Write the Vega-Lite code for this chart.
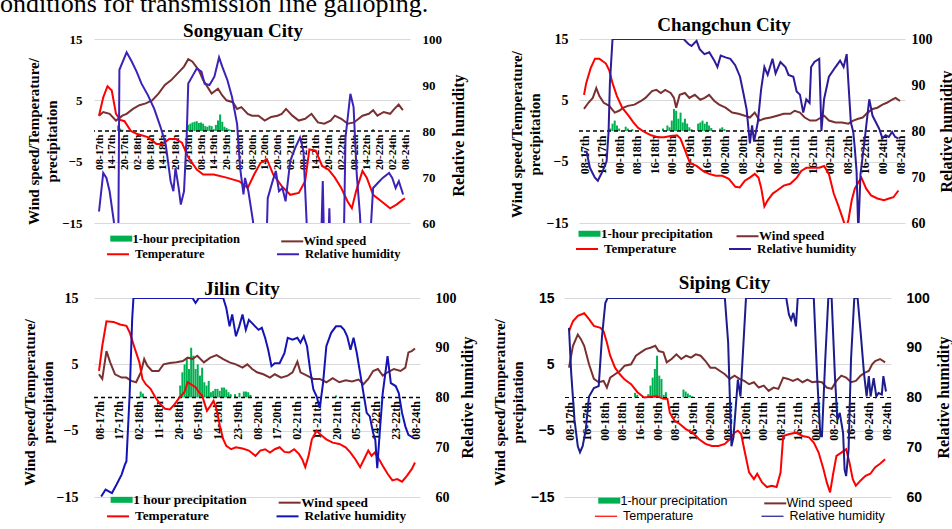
{
  "$schema": "https://vega.github.io/schema/vega-lite/v6.json",
  "background": "white",
  "padding": {"left": 0, "top": -10, "right": 0, "bottom": 0},
  "title": {"text": "onditions for transmission line galloping.", "anchor": "start", "frame": "bounds", "font": "Liberation Serif", "fontSize": 26, "fontWeight": "normal", "color": "black", "baseline": "alphabetic", "offset": -22, "dx": -22},
  "config": {
    "view": {"stroke": null},
    "font": "Liberation Serif",
    "axis": {"labelColor": "black", "titleColor": "black"},
    "axisX": {"labelOverlap": false, "tickCount": 200},
    "legend": {"labelColor": "black"},
    "title": {"color": "black"}
  },
  "datasets": {
    "sy_w": [{"h":0,"v":2.5},{"h":2,"v":3.1},{"h":5,"v":2.8},{"h":8,"v":1.7},{"h":11,"v":2.5},{"h":13,"v":2.8},{"h":16,"v":3.6},{"h":19,"v":4.2},{"h":22,"v":4.5},{"h":25,"v":5.0},{"h":28,"v":6.1},{"h":31,"v":7.5},{"h":34,"v":8.3},{"h":37,"v":9.4},{"h":40,"v":10.5},{"h":42,"v":11.7},{"h":44,"v":11.3},{"h":47,"v":9.9},{"h":49,"v":8.3},{"h":51,"v":7.2},{"h":53,"v":6.1},{"h":56,"v":6.9},{"h":58,"v":5.8},{"h":60,"v":5.0},{"h":63,"v":4.7},{"h":65,"v":3.6},{"h":67,"v":3.9},{"h":70,"v":2.8},{"h":72,"v":2.5},{"h":75,"v":2.5},{"h":78,"v":1.7},{"h":81,"v":2.3},{"h":84,"v":2.5},{"h":86,"v":2.8},{"h":88,"v":3.6},{"h":91,"v":2.5},{"h":94,"v":1.7},{"h":97,"v":2.0},{"h":100,"v":2.8},{"h":103,"v":1.4},{"h":106,"v":1.2},{"h":109,"v":1.7},{"h":111,"v":2.5},{"h":114,"v":2.0},{"h":117,"v":1.2},{"h":120,"v":1.4},{"h":124,"v":2.5},{"h":127,"v":2.8},{"h":129,"v":3.4},{"h":131,"v":2.5},{"h":134,"v":3.1},{"h":137,"v":2.8},{"h":139,"v":3.6},{"h":141,"v":4.3},{"h":143,"v":3.4}],
    "sy_t": [{"h":0,"v":2.5},{"h":2,"v":5.5},{"h":4,"v":7.3},{"h":6,"v":6.6},{"h":8,"v":2.8},{"h":10,"v":1.8},{"h":12,"v":1.6},{"h":15,"v":0},{"h":18,"v":-0.5},{"h":23,"v":-1.0},{"h":27,"v":-2.1},{"h":30,"v":-2.1},{"h":33,"v":-1.3},{"h":36,"v":-1.3},{"h":39,"v":-1.9},{"h":42,"v":-4.3},{"h":46,"v":-6.3},{"h":49,"v":-7.1},{"h":54,"v":-7.1},{"h":60,"v":-7.6},{"h":66,"v":-8.2},{"h":70,"v":-9.3},{"h":73,"v":-7.1},{"h":76,"v":-5.2},{"h":79,"v":-4.6},{"h":82,"v":-7.1},{"h":86,"v":-9.0},{"h":90,"v":-10.4},{"h":94,"v":-10.1},{"h":97,"v":-8.2},{"h":99,"v":-3.0},{"h":102,"v":-3.2},{"h":105,"v":-5.7},{"h":108,"v":-6.3},{"h":111,"v":-7.6},{"h":114,"v":-9.3},{"h":117,"v":-11.5},{"h":119,"v":-12.6},{"h":121,"v":-9.8},{"h":124,"v":-6.5},{"h":126,"v":-7.6},{"h":129,"v":-10.4},{"h":133,"v":-11.5},{"h":137,"v":-12.6},{"h":140,"v":-12.0},{"h":143,"v":-11.2},{"h":144,"v":-11.0}],
    "sy_h": [{"h":0,"v":62.5},{"h":2,"v":70.9},{"h":3.5,"v":69.8},{"h":5,"v":66.9},{"h":7,"v":60.3},{"h":7.8,"v":50},{"h":9,"v":50},{"h":9.6,"v":93.3},{"h":13,"v":97.1},{"h":15.4,"v":95.1},{"h":17.7,"v":92.9},{"h":20,"v":90.3},{"h":23,"v":87.8},{"h":26,"v":84.8},{"h":29,"v":80.8},{"h":31.4,"v":77.1},{"h":33.7,"v":69.1},{"h":35,"v":66.9},{"h":36,"v":72},{"h":37.5,"v":67.6},{"h":38.5,"v":64},{"h":40,"v":66.9},{"h":41.3,"v":79.3},{"h":42,"v":90.3},{"h":44.3,"v":92.2},{"h":46,"v":93.6},{"h":48.2,"v":92.9},{"h":49.7,"v":90.3},{"h":52,"v":90},{"h":54.3,"v":91.8},{"h":56.5,"v":96},{"h":58,"v":94},{"h":60.4,"v":91.1},{"h":62.6,"v":87.4},{"h":65,"v":81.5},{"h":66.4,"v":72},{"h":68,"v":66.2},{"h":68.7,"v":69.8},{"h":70.3,"v":66.9},{"h":72.5,"v":60.3},{"h":73.5,"v":50},{"h":78.5,"v":50},{"h":79.4,"v":65.4},{"h":81.7,"v":69.1},{"h":83.2,"v":71.3},{"h":84.7,"v":66.9},{"h":86.3,"v":67.6},{"h":87.8,"v":64.7},{"h":90,"v":73.5},{"h":92.4,"v":76.4},{"h":94.6,"v":78.6},{"h":96.2,"v":75.7},{"h":97.7,"v":60.3},{"h":98.5,"v":50},{"h":104.2,"v":50},{"h":105.3,"v":69.1},{"h":106.2,"v":50},{"h":107.6,"v":50},{"h":108.4,"v":63.2},{"h":109.2,"v":50},{"h":115,"v":50},{"h":116,"v":78.6},{"h":118.3,"v":88.1},{"h":119.8,"v":85.2},{"h":121.3,"v":70.5},{"h":122.8,"v":61.8},{"h":124,"v":50},{"h":127.4,"v":55},{"h":129,"v":67.6},{"h":131.2,"v":68.7},{"h":133.5,"v":69.8},{"h":136.5,"v":70.9},{"h":138,"v":69.8},{"h":139.6,"v":67.6},{"h":141.1,"v":69.1},{"h":143.1,"v":66.2}],
    "sy_p": [{"h":9,"v":0.9},{"h":10,"v":0.4},{"h":11,"v":0.2},{"h":42,"v":1.0},{"h":43,"v":1.2},{"h":44,"v":1.4},{"h":45,"v":1.5},{"h":46,"v":1.6},{"h":47,"v":1.3},{"h":48,"v":1.4},{"h":49,"v":1.2},{"h":50,"v":0.8},{"h":51,"v":0.7},{"h":52,"v":0.9},{"h":53,"v":0.8},{"h":54,"v":0.3},{"h":55,"v":1.0},{"h":56,"v":1.7},{"h":57,"v":2.7},{"h":58,"v":1.5},{"h":59,"v":0.7},{"h":60,"v":0.5},{"h":61,"v":0.3},{"h":62,"v":0.2},{"h":81,"v":0.1},{"h":129,"v":0.3}],
    "cc_w": [{"h":0,"v":3.6},{"h":2,"v":4.6},{"h":4,"v":5.4},{"h":5.6,"v":7.0},{"h":7,"v":5.7},{"h":9,"v":4.6},{"h":11.5,"v":4.1},{"h":14,"v":3.0},{"h":16,"v":3.3},{"h":18,"v":3.8},{"h":20,"v":4.1},{"h":23,"v":4.3},{"h":26,"v":4.9},{"h":28,"v":5.4},{"h":31,"v":6.5},{"h":33,"v":6.7},{"h":35,"v":6.2},{"h":37,"v":6.7},{"h":39.5,"v":6.2},{"h":41,"v":5.4},{"h":42,"v":3.8},{"h":43.6,"v":5.9},{"h":46,"v":6.2},{"h":48,"v":5.4},{"h":50.5,"v":5.9},{"h":53,"v":5.1},{"h":55,"v":5.4},{"h":57,"v":5.9},{"h":59.4,"v":4.9},{"h":61.6,"v":4.3},{"h":64.5,"v":3.8},{"h":67.5,"v":3.0},{"h":70.4,"v":2.8},{"h":73.3,"v":2.5},{"h":75.6,"v":2.2},{"h":77.8,"v":3.0},{"h":80,"v":1.7},{"h":82,"v":2.0},{"h":85,"v":2.2},{"h":88,"v":2.5},{"h":91,"v":2.8},{"h":94,"v":2.8},{"h":96,"v":3.3},{"h":98.4,"v":3.0},{"h":100.6,"v":2.2},{"h":103,"v":1.7},{"h":105.7,"v":1.7},{"h":108,"v":2.2},{"h":109.4,"v":2.5},{"h":111.6,"v":1.7},{"h":114.6,"v":1.4},{"h":117.5,"v":1.4},{"h":120.5,"v":1.2},{"h":122.7,"v":1.7},{"h":125,"v":2.0},{"h":127,"v":2.2},{"h":129.3,"v":3.0},{"h":131.5,"v":3.6},{"h":133.7,"v":3.8},{"h":136,"v":4.3},{"h":138,"v":4.6},{"h":140.4,"v":5.1},{"h":142,"v":5.4},{"h":144,"v":4.9}],
    "cc_t": [{"h":0,"v":5.9},{"h":1,"v":7.8},{"h":3,"v":10.2},{"h":5,"v":11.8},{"h":7,"v":11.8},{"h":10,"v":11.0},{"h":11.5,"v":9.9},{"h":13,"v":7.8},{"h":15,"v":5.7},{"h":17.4,"v":3.8},{"h":20.3,"v":2.5},{"h":22.5,"v":1.4},{"h":24.7,"v":0.5},{"h":27.7,"v":-0.2},{"h":30.6,"v":-0.7},{"h":33.6,"v":-1.0},{"h":36.5,"v":-1.0},{"h":39.5,"v":-0.8},{"h":42.4,"v":-0.7},{"h":43.9,"v":-1.2},{"h":46,"v":-3.1},{"h":48.3,"v":-5.2},{"h":51.3,"v":-5.7},{"h":54.2,"v":-6.5},{"h":57,"v":-7.0},{"h":60,"v":-7.3},{"h":63,"v":-7.3},{"h":66,"v":-7.8},{"h":69,"v":-9.1},{"h":71,"v":-9.2},{"h":73.3,"v":-8.1},{"h":75.6,"v":-7.6},{"h":77.8,"v":-7.0},{"h":79.5,"v":-7.6},{"h":80.7,"v":-9.2},{"h":82.2,"v":-12.3},{"h":83.7,"v":-11.3},{"h":86,"v":-10.2},{"h":88,"v":-9.7},{"h":91,"v":-8.9},{"h":94,"v":-8.6},{"h":97,"v":-7.6},{"h":99,"v":-6.5},{"h":101.3,"v":-6.0},{"h":104.3,"v":-6.0},{"h":107.2,"v":-6.0},{"h":109.4,"v":-5.7},{"h":111.6,"v":-7.0},{"h":113.8,"v":-10.2},{"h":116,"v":-12.3},{"h":118.3,"v":-14.7},{"h":119.3,"v":-16},{"h":120.5,"v":-14.5},{"h":122,"v":-11.3},{"h":123.4,"v":-9.4},{"h":125,"v":-8.4},{"h":126.4,"v":-7.6},{"h":128.6,"v":-9.4},{"h":130.8,"v":-10.5},{"h":133.7,"v":-11.0},{"h":136.7,"v":-11.3},{"h":139,"v":-11.0},{"h":141,"v":-10.8},{"h":143.3,"v":-9.7}],
    "cc_h": [{"h":0,"v":75.5},{"h":1.2,"v":75.5},{"h":2.7,"v":72},{"h":4.9,"v":69.9},{"h":6.3,"v":69.2},{"h":8.5,"v":71.3},{"h":10.3,"v":73.4},{"h":11.2,"v":79.8},{"h":11.8,"v":90.4},{"h":13,"v":100},{"h":45.4,"v":100},{"h":47.6,"v":98.9},{"h":49,"v":98.5},{"h":51.3,"v":99.6},{"h":52.7,"v":97.8},{"h":54.9,"v":96.7},{"h":57.1,"v":97.1},{"h":59.4,"v":95.3},{"h":60.8,"v":93.9},{"h":62.3,"v":96.4},{"h":64.5,"v":96},{"h":66.7,"v":95.7},{"h":68.9,"v":94.3},{"h":71.1,"v":91.8},{"h":72.6,"v":88.3},{"h":74.1,"v":84.7},{"h":75.6,"v":77.3},{"h":76.6,"v":81.2},{"h":77.5,"v":77.7},{"h":79.2,"v":81.9},{"h":80.7,"v":89},{"h":82.2,"v":93.9},{"h":83.7,"v":92.2},{"h":85.9,"v":95.7},{"h":87.3,"v":92.5},{"h":89.5,"v":95},{"h":91.8,"v":93.9},{"h":93.2,"v":92.2},{"h":95.4,"v":91.8},{"h":96.9,"v":88.6},{"h":98.4,"v":87.9},{"h":99.9,"v":84},{"h":101.3,"v":86.9},{"h":102.8,"v":86.1},{"h":103.5,"v":93.9},{"h":105,"v":95},{"h":107.2,"v":95.7},{"h":108.2,"v":80},{"h":109.4,"v":86.9},{"h":111.6,"v":91.8},{"h":114.6,"v":93.9},{"h":116.7,"v":95.3},{"h":118.3,"v":93.9},{"h":119.7,"v":96.7},{"h":120.5,"v":90.4},{"h":121.6,"v":81.9},{"h":122.7,"v":79.8},{"h":123.4,"v":76.3},{"h":124.2,"v":71.3},{"h":125,"v":58},{"h":126,"v":70.6},{"h":127.8,"v":77.7},{"h":129.3,"v":84},{"h":130,"v":86.9},{"h":131.5,"v":83.3},{"h":133,"v":81.9},{"h":134.5,"v":80.5},{"h":136,"v":78.4},{"h":137.4,"v":79.1},{"h":138.9,"v":78.7},{"h":140.4,"v":79.8},{"h":141.8,"v":78.7},{"h":143.3,"v":78.4}],
    "cc_p": [{"h":12,"v":0.4},{"h":13,"v":1.2},{"h":14,"v":1.7},{"h":15,"v":0.9},{"h":16,"v":0.4},{"h":19,"v":0.7},{"h":20,"v":0.4},{"h":22,"v":0.3},{"h":31,"v":0.1},{"h":36,"v":0.4},{"h":38,"v":0.9},{"h":39,"v":0.6},{"h":40,"v":1.7},{"h":41,"v":3.6},{"h":42,"v":3.3},{"h":43,"v":2.0},{"h":44,"v":3.0},{"h":45,"v":1.4},{"h":46,"v":2.0},{"h":47,"v":1.2},{"h":48,"v":0.6},{"h":49,"v":0.3},{"h":52,"v":1.2},{"h":53,"v":1.4},{"h":54,"v":1.7},{"h":55,"v":1.2},{"h":56,"v":1.5},{"h":57,"v":0.9},{"h":58,"v":0.5},{"h":62,"v":0.4},{"h":63,"v":0.6},{"h":64,"v":0.3}],
    "jl_t": [{"h":0,"v":4.0},{"h":1.5,"v":7.8},{"h":3.4,"v":11.5},{"h":6.6,"v":11.4},{"h":9.6,"v":11.0},{"h":12.5,"v":10.8},{"h":14,"v":9.8},{"h":16.2,"v":7.5},{"h":18.4,"v":5.3},{"h":19.8,"v":2.8},{"h":21.3,"v":2.0},{"h":23.5,"v":1.3},{"h":25.7,"v":0},{"h":27.9,"v":-1.0},{"h":30.1,"v":-1.7},{"h":32.3,"v":-1.8},{"h":34.5,"v":-1.0},{"h":36.7,"v":0},{"h":38.9,"v":0.8},{"h":40.4,"v":2.3},{"h":41.9,"v":2.0},{"h":44.1,"v":1.5},{"h":45.5,"v":0.8},{"h":47,"v":0.3},{"h":48.5,"v":-1.3},{"h":49.2,"v":-2.0},{"h":50.7,"v":-1.3},{"h":52.2,"v":-0.5},{"h":53.6,"v":-1.8},{"h":55.1,"v":-4.3},{"h":56.6,"v":-6.3},{"h":58,"v":-7.3},{"h":60.2,"v":-7.8},{"h":62.4,"v":-7.5},{"h":65.4,"v":-7.7},{"h":68.3,"v":-8.0},{"h":71.3,"v":-8.8},{"h":73.5,"v":-8.0},{"h":75.7,"v":-7.8},{"h":77.9,"v":-8.3},{"h":80.1,"v":-7.8},{"h":82.3,"v":-7.5},{"h":84.5,"v":-8.2},{"h":86.7,"v":-8.3},{"h":88.9,"v":-7.8},{"h":91.1,"v":-8.5},{"h":92.6,"v":-9.3},{"h":94,"v":-10.5},{"h":95.5,"v":-8.8},{"h":97,"v":-6.3},{"h":99.2,"v":-5.0},{"h":100.6,"v":-5.5},{"h":103.6,"v":-6.3},{"h":106.5,"v":-6.8},{"h":109.5,"v":-7.0},{"h":112.4,"v":-7.5},{"h":114.6,"v":-8.3},{"h":116.8,"v":-9.3},{"h":119,"v":-10.5},{"h":120.5,"v":-9.5},{"h":122.7,"v":-8.0},{"h":124.2,"v":-8.8},{"h":125.6,"v":-8.3},{"h":127.1,"v":-9.0},{"h":129.3,"v":-10.3},{"h":131.5,"v":-11.5},{"h":133.7,"v":-12.5},{"h":135.9,"v":-12.3},{"h":138.1,"v":-12.7},{"h":140.3,"v":-11.8},{"h":142.5,"v":-10.8},{"h":144,"v":-9.8}],
    "jl_w": [{"h":0,"v":3.5},{"h":1.5,"v":2.8},{"h":3.4,"v":7.0},{"h":5.1,"v":5.3},{"h":7.3,"v":3.5},{"h":10.3,"v":3.0},{"h":12.5,"v":3.0},{"h":14.7,"v":2.5},{"h":16.9,"v":2.3},{"h":19.1,"v":3.8},{"h":20.6,"v":5.8},{"h":22,"v":4.8},{"h":24.2,"v":4.0},{"h":27.2,"v":4.0},{"h":29.4,"v":5.0},{"h":32.3,"v":5.2},{"h":35.3,"v":5.3},{"h":38.2,"v":5.5},{"h":40.4,"v":6.0},{"h":42.6,"v":5.8},{"h":44.8,"v":6.3},{"h":47.8,"v":5.3},{"h":50.7,"v":6.0},{"h":53.6,"v":6.4},{"h":56.6,"v":5.8},{"h":59.5,"v":5.3},{"h":62.4,"v":5.0},{"h":65.4,"v":4.5},{"h":67.6,"v":5.0},{"h":69.8,"v":4.3},{"h":72,"v":3.8},{"h":74.9,"v":3.5},{"h":77.9,"v":3.0},{"h":80.1,"v":3.5},{"h":83,"v":3.0},{"h":86,"v":3.3},{"h":88.2,"v":3.8},{"h":90.4,"v":5.4},{"h":91.8,"v":3.8},{"h":94.8,"v":3.3},{"h":97.7,"v":2.8},{"h":100.6,"v":2.8},{"h":103.6,"v":2.3},{"h":106.5,"v":2.9},{"h":109.5,"v":2.3},{"h":112.4,"v":2.6},{"h":115.3,"v":2.4},{"h":118.3,"v":2.7},{"h":120.5,"v":2.0},{"h":122.7,"v":2.8},{"h":124.9,"v":4.0},{"h":127.1,"v":4.3},{"h":129.3,"v":3.3},{"h":131.5,"v":3.8},{"h":134.4,"v":4.3},{"h":137.4,"v":4.0},{"h":139.6,"v":4.5},{"h":141,"v":6.8},{"h":142.5,"v":7.0},{"h":144,"v":7.4}],
    "jl_h": [{"h":1,"v":60.1},{"h":3,"v":61.5},{"h":5.9,"v":60.8},{"h":8,"v":62.5},{"h":10.3,"v":64.5},{"h":11.8,"v":66.5},{"h":12.5,"v":67.2},{"h":14,"v":80.9},{"h":15.1,"v":95.6},{"h":15.7,"v":100},{"h":42.6,"v":100},{"h":44,"v":99},{"h":45.5,"v":100},{"h":56.6,"v":100},{"h":58,"v":98},{"h":59.5,"v":94.3},{"h":60.7,"v":96.7},{"h":62.4,"v":92.3},{"h":63.9,"v":94.3},{"h":65.4,"v":96.7},{"h":66.9,"v":93.6},{"h":68.3,"v":95.6},{"h":70.5,"v":94.6},{"h":72.7,"v":93.6},{"h":74.2,"v":94},{"h":75.7,"v":92},{"h":77.1,"v":89.6},{"h":78.6,"v":86.3},{"h":80.1,"v":86.9},{"h":82.3,"v":86.9},{"h":84.5,"v":88.9},{"h":86,"v":92},{"h":88.2,"v":91.6},{"h":90.4,"v":92},{"h":91.8,"v":91},{"h":93.3,"v":92.3},{"h":94.8,"v":90.3},{"h":96.2,"v":85.6},{"h":97.7,"v":81.6},{"h":99.2,"v":80.2},{"h":100.6,"v":77.9},{"h":102.1,"v":82.9},{"h":103.6,"v":90.3},{"h":105.8,"v":93},{"h":108,"v":94.3},{"h":110.2,"v":94.3},{"h":111.7,"v":93.6},{"h":113.1,"v":92.3},{"h":114.6,"v":89.6},{"h":116,"v":92},{"h":117.5,"v":88.9},{"h":119,"v":84.9},{"h":120.5,"v":80.9},{"h":122,"v":76.9},{"h":123.4,"v":76.2},{"h":124.9,"v":72.9},{"h":125.9,"v":71.5},{"h":126.8,"v":65.8},{"h":127.8,"v":72.2},{"h":129.3,"v":80.9},{"h":131.5,"v":88.3},{"h":133,"v":82.9},{"h":135.2,"v":82.3},{"h":136.6,"v":80.9},{"h":138.1,"v":76.9},{"h":139.6,"v":74.2},{"h":141,"v":72.5},{"h":143.3,"v":71.9}],
    "jl_p": [{"h":19,"v":0.9},{"h":20,"v":0.6},{"h":37,"v":1.8},{"h":38,"v":3.8},{"h":39,"v":5.0},{"h":40,"v":6.0},{"h":41,"v":4.3},{"h":42,"v":7.5},{"h":43,"v":6.3},{"h":44,"v":4.3},{"h":45,"v":5.0},{"h":46,"v":3.3},{"h":47,"v":4.5},{"h":48,"v":2.3},{"h":49,"v":1.8},{"h":50,"v":2.5},{"h":51,"v":0.8},{"h":52,"v":1.0},{"h":53,"v":1.3},{"h":54,"v":1.3},{"h":55,"v":1.0},{"h":56,"v":1.5},{"h":57,"v":1.5},{"h":58,"v":1.2},{"h":59,"v":0.8},{"h":60,"v":0.5},{"h":62,"v":0.5},{"h":64,"v":0.7},{"h":66,"v":0.9},{"h":67,"v":0.9},{"h":68,"v":0.8},{"h":69,"v":0.4},{"h":108,"v":0.3}],
    "sp_t": [{"h":0,"v":10.0},{"h":1.8,"v":11.5},{"h":4,"v":12.3},{"h":6.9,"v":12.7},{"h":9.1,"v":11.8},{"h":11.3,"v":10.8},{"h":14.3,"v":10.5},{"h":15.7,"v":10.0},{"h":17.2,"v":8.3},{"h":18.7,"v":6.3},{"h":20.9,"v":4.5},{"h":23.1,"v":3.5},{"h":25.3,"v":2.7},{"h":28.2,"v":2.0},{"h":31.1,"v":0.8},{"h":34.1,"v":0},{"h":37,"v":0.1},{"h":40,"v":0.2},{"h":42.9,"v":-0.2},{"h":44.7,"v":-0.2},{"h":45.8,"v":-2.3},{"h":48,"v":-3.5},{"h":50.3,"v":-4.0},{"h":53.2,"v":-4.8},{"h":56.1,"v":-5.3},{"h":59.1,"v":-6.3},{"h":62,"v":-7.0},{"h":64.9,"v":-7.3},{"h":67.9,"v":-7.3},{"h":70.8,"v":-7.0},{"h":73,"v":-6.3},{"h":75.2,"v":-5.3},{"h":76.7,"v":-5.0},{"h":78.2,"v":-5.5},{"h":79.6,"v":-7.8},{"h":81.8,"v":-11.3},{"h":84,"v":-12.3},{"h":85.5,"v":-11.5},{"h":87.7,"v":-12.8},{"h":89.9,"v":-13.5},{"h":92.1,"v":-13.3},{"h":94.3,"v":-13.5},{"h":96.1,"v":-11.3},{"h":97.3,"v":-5.8},{"h":100.2,"v":-5.5},{"h":103.1,"v":-5.3},{"h":106.1,"v":-5.8},{"h":109,"v":-6.0},{"h":111.2,"v":-6.8},{"h":113.4,"v":-8.3},{"h":115.6,"v":-10.8},{"h":117.1,"v":-12.8},{"h":118.6,"v":-14.3},{"h":120,"v":-11.5},{"h":121.5,"v":-8.8},{"h":123.7,"v":-8.3},{"h":125.9,"v":-7.8},{"h":127.4,"v":-9.8},{"h":128.9,"v":-12.3},{"h":130.3,"v":-13.3},{"h":132.5,"v":-12.5},{"h":134.7,"v":-11.8},{"h":136.9,"v":-11.5},{"h":139.1,"v":-10.5},{"h":141.3,"v":-10.0},{"h":143.6,"v":-9.3}],
    "sp_w": [{"h":0,"v":4.5},{"h":1.8,"v":7.8},{"h":4,"v":9.5},{"h":5.4,"v":8.8},{"h":6.9,"v":7.8},{"h":9.1,"v":5.0},{"h":11.3,"v":2.8},{"h":13.5,"v":2.3},{"h":15.7,"v":2.5},{"h":17.2,"v":1.5},{"h":18.7,"v":3.0},{"h":20.9,"v":3.5},{"h":23.1,"v":4.0},{"h":25.3,"v":4.8},{"h":28.2,"v":5.0},{"h":30.4,"v":6.3},{"h":32.6,"v":6.8},{"h":34.8,"v":7.3},{"h":37,"v":7.5},{"h":39.2,"v":7.8},{"h":40.7,"v":7.0},{"h":42.9,"v":6.8},{"h":44.4,"v":5.3},{"h":46.6,"v":5.8},{"h":48.8,"v":6.5},{"h":51,"v":5.8},{"h":53.2,"v":6.3},{"h":55.4,"v":6.0},{"h":57.6,"v":6.5},{"h":59.8,"v":6.3},{"h":62,"v":5.5},{"h":64.2,"v":4.5},{"h":66.4,"v":4.5},{"h":68.6,"v":4.0},{"h":70.8,"v":3.5},{"h":73,"v":2.8},{"h":75.2,"v":3.3},{"h":77.4,"v":2.8},{"h":79.6,"v":2.5},{"h":81.8,"v":2.0},{"h":84,"v":2.3},{"h":86.2,"v":1.5},{"h":88.5,"v":1.8},{"h":90.7,"v":1.0},{"h":92.9,"v":1.5},{"h":95.1,"v":1.3},{"h":97.3,"v":3.0},{"h":99.5,"v":2.8},{"h":101.7,"v":2.5},{"h":103.9,"v":2.8},{"h":106.1,"v":2.3},{"h":108.3,"v":2.7},{"h":110.5,"v":2.3},{"h":112.7,"v":2.4},{"h":114.9,"v":2.3},{"h":117.1,"v":1.5},{"h":119.3,"v":1.3},{"h":121.5,"v":2.5},{"h":123.7,"v":3.3},{"h":125.9,"v":3.0},{"h":128.1,"v":2.3},{"h":130.3,"v":2.5},{"h":132.5,"v":3.3},{"h":134.7,"v":3.8},{"h":136.2,"v":4.0},{"h":137.7,"v":5.0},{"h":139.1,"v":5.5},{"h":141.3,"v":5.8},{"h":143.6,"v":5.3}],
    "sp_h": [{"h":0,"v":94},{"h":1,"v":84.9},{"h":2.5,"v":75.5},{"h":4,"v":70.2},{"h":5,"v":69},{"h":6.2,"v":70.2},{"h":7.6,"v":73.5},{"h":9.1,"v":80.2},{"h":11.3,"v":81.9},{"h":13.5,"v":82.3},{"h":15,"v":92.3},{"h":16.5,"v":99},{"h":17.5,"v":100},{"h":70.8,"v":100},{"h":72.3,"v":91},{"h":73,"v":80.9},{"h":73.8,"v":70.2},{"h":74.7,"v":72},{"h":76.7,"v":83.6},{"h":77.9,"v":80.2},{"h":80.4,"v":100},{"h":98.7,"v":100},{"h":99.9,"v":96.7},{"h":100.9,"v":95.6},{"h":101.9,"v":97},{"h":103.1,"v":94.3},{"h":103.9,"v":100},{"h":111.2,"v":100},{"h":112.7,"v":84.3},{"h":114.2,"v":72.2},{"h":114.9,"v":72.2},{"h":116.4,"v":87.6},{"h":117.8,"v":100},{"h":119.3,"v":100},{"h":120.8,"v":84.3},{"h":121.9,"v":75.5},{"h":123,"v":76.9},{"h":124.5,"v":72.9},{"h":125.2,"v":65.5},{"h":125.9,"v":64.2},{"h":127,"v":69.5},{"h":128.1,"v":87.6},{"h":129.6,"v":100},{"h":131.1,"v":100},{"h":132.5,"v":93},{"h":134,"v":84.9},{"h":135.2,"v":80.2},{"h":136.2,"v":84.3},{"h":137,"v":80.2},{"h":138.4,"v":83.9},{"h":139.6,"v":80.2},{"h":140.6,"v":80.9},{"h":142.1,"v":80.6},{"h":142.8,"v":84.3},{"h":144,"v":81.2}],
    "sp_p": [{"h":30,"v":0.7},{"h":31,"v":0.4},{"h":36,"v":0.5},{"h":37,"v":1.8},{"h":38,"v":3.0},{"h":39,"v":4.3},{"h":40,"v":6.3},{"h":41,"v":3.3},{"h":42,"v":2.8},{"h":43,"v":0.4},{"h":44,"v":0.8},{"h":52,"v":1.2},{"h":53,"v":0.9},{"h":54,"v":0.6},{"h":55,"v":0.35},{"h":56,"v":0.2}],
    "zero": [{"v":0}]
  },
  "bounds": "full",
  "spacing": 13,
  "resolve": {"scale": {"color": "independent", "stroke": "independent"}, "legend": {"color": "independent", "stroke": "independent"}},
  "vconcat": [
    {
      "bounds": "flush",
      "spacing": 169,
      "resolve": {"scale": {"color": "independent", "stroke": "independent"}, "legend": {"color": "independent", "stroke": "independent"}},
      "hconcat": [
        {
          "width": 316, "height": 184,
          "title": {"text": "Songyuan City", "font": "Liberation Serif", "fontSize": 19, "fontWeight": "bold", "baseline": "alphabetic", "offset": -23, "dx": -9},
          "layer": [
            {"layer": [
              {"data": {"name": "sy_p"}, "mark": {"type": "bar", "width": 2},
               "encoding": {
                 "x": {"field": "h", "type": "quantitative", "scale": {"domain": [0, 144], "nice": false, "zero": false},
                       "axis": {"orient": "bottom", "offset": -92, "values": [0,6,12,18,24,30,36,42,48,54,60,66,72,78,84,90,96,102,108,114,120,126,132,138,144], "tickCount": 200, "labelExpr": "pad(((8+datum.value)%24)+'',2,'0','left')+'-'+((floor((8+datum.value)/24)+17)==23?24:(floor((8+datum.value)/24)+17))+'th'", "labelAngle": -90, "labelAlign": "right", "labelBaseline": "middle", "labelFont": "Liberation Serif", "labelFontSize": 11, "labelFontWeight": "bold", "labelPadding": 3, "ticks": false, "domain": false, "grid": false, "title": null, "labelOverlap": false, "labelFlush": false, "labelBound": false}},
                 "y": {"field": "v", "type": "quantitative", "scale": {"domain": [-15, 15], "nice": false},
                       "axis": {"values": [-15,-10,-5,0,5,10,15], "title": ["Wind speed/Temperature/", "precipitation"], "titleFont": "Liberation Serif", "titleFontSize": 15, "titleFontWeight": "bold", "titleAngle": 270, "titleAlign": "center", "titleBaseline": "top", "titleX": -68, "titleY": 102, "titleLineHeight": 18, "labelFont": "Liberation Serif", "labelFontSize": 13, "labelFontWeight": "bold", "labelPadding": 12, "ticks": false, "domain": false, "grid": true, "gridColor": "#d9d9d9", "labelFlush": false}},
                 "color": {"datum": "1-hour precipitation",
                           "scale": {"domain": ["1-hour precipitation", "Wind speed"], "range": ["#00b050", "#7a3030"]},
                           "legend": {"orient": "none", "direction": "horizontal", "legendX": 21, "legendY": 193, "title": null, "symbolType": "stroke", "symbolSize": 484, "labelFont": "Liberation Serif", "labelFontWeight": "bold", "labelFontSize": 12.5, "labelOffset": 5, "columnPadding": 36, "padding": 0, "labelLimit": 300,
                                      "encode": {"symbols": {"update": {"stroke": {"signal": "datum.value==='1-hour precipitation'?'#00b050':'#7a3030'"}, "strokeWidth": {"signal": "datum.value==='1-hour precipitation'?6:2"}}}}}}
               }},
              {"data": {"name": "zero"}, "mark": {"type": "rule", "color": "black", "strokeDash": [4, 3], "strokeWidth": 1.3},
               "encoding": {"y": {"field": "v", "type": "quantitative", "scale": {"domain": [-15, 15], "nice": false}}}},
              {"data": {"name": "sy_w"}, "mark": {"type": "line", "strokeWidth": 2},
               "encoding": {"x": {"field": "h", "type": "quantitative", "scale": {"domain": [0, 144], "nice": false, "zero": false}, "axis": {"labelOverlap": false, "tickCount": 200}}, "y": {"field": "v", "type": "quantitative", "scale": {"domain": [-15, 15], "nice": false}}, "color": {"datum": "Wind speed"}}},
              {"data": {"name": "sy_t"}, "mark": {"type": "line", "strokeWidth": 2, "clip": true},
               "encoding": {"x": {"field": "h", "type": "quantitative", "scale": {"domain": [0, 144], "nice": false, "zero": false}, "axis": {"labelOverlap": false, "tickCount": 200}}, "y": {"field": "v", "type": "quantitative", "scale": {"domain": [-15, 15], "nice": false}},
                 "stroke": {"datum": "Temperature",
                            "scale": {"domain": ["Temperature", "Relative humidity"], "range": ["#ff0000", "#3d22b8"]},
                            "legend": {"orient": "none", "direction": "horizontal", "legendX": 12, "legendY": 203, "title": null, "symbolType": "stroke", "symbolSize": 484, "symbolStrokeWidth": 2, "labelFont": "Liberation Serif", "labelFontWeight": "bold", "labelFontSize": 12.5, "labelOffset": 5, "columnPadding": 68, "padding": 0, "labelLimit": 300,
                                       "encode": {"symbols": {"update": {"stroke": {"signal": "datum.value==='Temperature'?'#ff0000':'#3d22b8'"}, "strokeWidth": {"value": 2}}}}}}}}
            ]},
            {"data": {"name": "sy_h"}, "mark": {"type": "line", "strokeWidth": 2, "clip": true},
             "encoding": {
               "x": {"field": "h", "type": "quantitative", "scale": {"domain": [0, 144], "nice": false, "zero": false}, "axis": {"labelOverlap": false, "tickCount": 200}},
               "y": {"field": "v", "type": "quantitative", "scale": {"domain": [60, 100], "nice": false, "zero": false},
                     "axis": {"orient": "right", "values": [60,70,80,90,100], "title": "Relative humidity", "titleFont": "Liberation Serif", "titleFontSize": 16, "titleFontWeight": "bold", "titleAngle": 270, "titleAlign": "center", "titleBaseline": "middle", "titleX": 48, "titleY": 96, "labelFont": "Liberation Serif", "labelFontSize": 13, "labelFontWeight": "bold", "labelPadding": 12, "ticks": false, "domain": false, "grid": false, "labelFlush": false}},
               "stroke": {"datum": "Relative humidity"}}}
          ],
          "resolve": {"scale": {"y": "independent"}}
        },
        {
          "width": 326, "height": 184,
          "title": {"text": "Changchun City", "font": "Liberation Serif", "fontSize": 19, "fontWeight": "bold", "baseline": "alphabetic", "offset": -17.5, "dx": -18},
          "layer": [
            {"layer": [
              {"data": {"name": "cc_p"}, "mark": {"type": "bar", "width": 2},
               "encoding": {
                 "x": {"field": "h", "type": "quantitative", "scale": {"domain": [0, 144], "nice": false, "zero": false},
                       "axis": {"orient": "bottom", "offset": -92, "values": [0,8,16,24,32,40,48,56,64,72,80,88,96,104,112,120,128,136,144], "tickCount": 200, "labelExpr": "pad(((8+datum.value)%24)+'',2,'0','left')+'-'+((floor((8+datum.value)/24)+17)==23?24:(floor((8+datum.value)/24)+17))+'th'", "labelAngle": -90, "labelAlign": "right", "labelBaseline": "middle", "labelFont": "Liberation Serif", "labelFontSize": 12, "labelFontWeight": "bold", "labelPadding": 4, "ticks": false, "domain": false, "grid": false, "title": null, "labelOverlap": false, "labelFlush": false, "labelBound": false}},
                 "y": {"field": "v", "type": "quantitative", "scale": {"domain": [-15, 15], "nice": false},
                       "axis": {"values": [-15,-10,-5,0,5,10,15], "title": ["Wind speed/Temperature/", "precipitation"], "titleFont": "Liberation Serif", "titleFontSize": 15, "titleFontWeight": "bold", "titleAngle": 270, "titleAlign": "center", "titleBaseline": "top", "titleX": -70, "titleY": 95, "titleLineHeight": 18, "labelFont": "Liberation Serif", "labelFontSize": 14, "labelFontWeight": "bold", "labelPadding": 11, "ticks": false, "domain": false, "grid": true, "gridColor": "#d9d9d9", "labelFlush": false}},
                 "color": {"datum": "1-hour precipitation",
                           "scale": {"domain": ["1-hour precipitation", "Wind speed"], "range": ["#00b050", "#7a3030"]},
                           "legend": {"orient": "none", "direction": "horizontal", "legendX": 4, "legendY": 188, "title": null, "symbolType": "stroke", "symbolSize": 484, "labelFont": "Liberation Serif", "labelFontWeight": "bold", "labelFontSize": 13, "labelOffset": 5, "columnPadding": 18, "padding": 0, "labelLimit": 300,
                                      "encode": {"symbols": {"update": {"stroke": {"signal": "datum.value==='1-hour precipitation'?'#00b050':'#7a3030'"}, "strokeWidth": {"signal": "datum.value==='1-hour precipitation'?6:2"}}}}}}
               }},
              {"data": {"name": "zero"}, "mark": {"type": "rule", "color": "black", "strokeDash": [4, 3], "strokeWidth": 1.3},
               "encoding": {"y": {"field": "v", "type": "quantitative", "scale": {"domain": [-15, 15], "nice": false}}}},
              {"data": {"name": "cc_w"}, "mark": {"type": "line", "strokeWidth": 2},
               "encoding": {"x": {"field": "h", "type": "quantitative", "scale": {"domain": [0, 144], "nice": false, "zero": false}, "axis": {"labelOverlap": false, "tickCount": 200}}, "y": {"field": "v", "type": "quantitative", "scale": {"domain": [-15, 15], "nice": false}}, "color": {"datum": "Wind speed"}}},
              {"data": {"name": "cc_t"}, "mark": {"type": "line", "strokeWidth": 2, "clip": true},
               "encoding": {"x": {"field": "h", "type": "quantitative", "scale": {"domain": [0, 144], "nice": false, "zero": false}, "axis": {"labelOverlap": false, "tickCount": 200}}, "y": {"field": "v", "type": "quantitative", "scale": {"domain": [-15, 15], "nice": false}},
                 "stroke": {"datum": "Temperature",
                            "scale": {"domain": ["Temperature", "Relative humidity"], "range": ["#ff0000", "#2d1b98"]},
                            "legend": {"orient": "none", "direction": "horizontal", "legendX": -4, "legendY": 198, "title": null, "symbolType": "stroke", "symbolSize": 484, "symbolStrokeWidth": 2, "labelFont": "Liberation Serif", "labelFontWeight": "bold", "labelFontSize": 13, "labelOffset": 5, "columnPadding": 48, "padding": 0, "labelLimit": 300,
                                       "encode": {"symbols": {"update": {"stroke": {"signal": "datum.value==='Temperature'?'#ff0000':'#2d1b98'"}, "strokeWidth": {"value": 2}}}}}}}}
            ]},
            {"data": {"name": "cc_h"}, "mark": {"type": "line", "strokeWidth": 2, "clip": true},
             "encoding": {
               "x": {"field": "h", "type": "quantitative", "scale": {"domain": [0, 144], "nice": false, "zero": false}, "axis": {"labelOverlap": false, "tickCount": 200}},
               "y": {"field": "v", "type": "quantitative", "scale": {"domain": [60, 100], "nice": false, "zero": false},
                     "axis": {"orient": "right", "values": [60,70,80,90,100], "title": "Relative humidity", "titleFont": "Liberation Serif", "titleFontSize": 16, "titleFontWeight": "bold", "titleAngle": 270, "titleAlign": "center", "titleBaseline": "middle", "titleX": 41, "titleY": 92, "labelFont": "Liberation Serif", "labelFontSize": 14, "labelFontWeight": "bold", "labelPadding": 6, "ticks": false, "domain": false, "grid": false, "labelFlush": false}},
               "stroke": {"datum": "Relative humidity"}}}
          ],
          "resolve": {"scale": {"y": "independent"}}
        }
      ]
    },
    {
      "bounds": "flush",
      "spacing": 144,
      "resolve": {"scale": {"color": "independent", "stroke": "independent"}, "legend": {"color": "independent", "stroke": "independent"}},
      "hconcat": [
        {
          "width": 326, "height": 199,
          "title": {"text": "Jilin City", "font": "Liberation Serif", "fontSize": 19, "fontWeight": "bold", "baseline": "alphabetic", "offset": -23, "dx": -15},
          "layer": [
            {"layer": [
              {"data": {"name": "jl_p"}, "mark": {"type": "bar", "width": 2},
               "encoding": {
                 "x": {"field": "h", "type": "quantitative", "scale": {"domain": [0, 144], "nice": false, "zero": false},
                       "axis": {"orient": "bottom", "offset": -99.5, "values": [0,9,18,27,36,45,54,63,72,81,90,99,108,117,126,135,144], "tickCount": 200, "labelExpr": "pad(((8+datum.value)%24)+'',2,'0','left')+'-'+((floor((8+datum.value)/24)+17)==23?24:(floor((8+datum.value)/24)+17))+'th'", "labelAngle": -90, "labelAlign": "right", "labelBaseline": "middle", "labelFont": "Liberation Serif", "labelFontSize": 12, "labelFontWeight": "bold", "labelPadding": 3, "ticks": false, "domain": false, "grid": false, "title": null, "labelOverlap": false, "labelFlush": false, "labelBound": false}},
                 "y": {"field": "v", "type": "quantitative", "scale": {"domain": [-15, 15], "nice": false},
                       "axis": {"values": [-15,-10,-5,0,5,10,15], "title": ["Wind speed/Temperature/", "precipitation"], "titleFont": "Liberation Serif", "titleFontSize": 15, "titleFontWeight": "bold", "titleAngle": 270, "titleAlign": "center", "titleBaseline": "top", "titleX": -72, "titleY": 104, "titleLineHeight": 18, "labelFont": "Liberation Serif", "labelFontSize": 14, "labelFontWeight": "bold", "labelPadding": 16, "ticks": false, "domain": false, "grid": true, "gridColor": "#d9d9d9", "labelFlush": false}},
                 "color": {"datum": "1 hour precipitation",
                           "scale": {"domain": ["1 hour precipitation", "Wind speed"], "range": ["#00b050", "#7a3030"]},
                           "legend": {"orient": "none", "direction": "horizontal", "legendX": 21, "legendY": 195, "title": null, "symbolType": "stroke", "symbolSize": 484, "labelFont": "Liberation Serif", "labelFontWeight": "bold", "labelFontSize": 13.3, "labelOffset": 5, "columnPadding": 27, "padding": 0, "labelLimit": 300,
                                      "encode": {"symbols": {"update": {"stroke": {"signal": "datum.value==='1 hour precipitation'?'#00b050':'#7a3030'"}, "strokeWidth": {"signal": "datum.value==='1 hour precipitation'?6:2"}}}}}}
               }},
              {"data": {"name": "zero"}, "mark": {"type": "rule", "color": "black", "strokeDash": [4, 3], "strokeWidth": 1.5},
               "encoding": {"y": {"field": "v", "type": "quantitative", "scale": {"domain": [-15, 15], "nice": false}}}},
              {"data": {"name": "jl_w"}, "mark": {"type": "line", "strokeWidth": 2},
               "encoding": {"x": {"field": "h", "type": "quantitative", "scale": {"domain": [0, 144], "nice": false, "zero": false}, "axis": {"labelOverlap": false, "tickCount": 200}}, "y": {"field": "v", "type": "quantitative", "scale": {"domain": [-15, 15], "nice": false}}, "color": {"datum": "Wind speed"}}},
              {"data": {"name": "jl_t"}, "mark": {"type": "line", "strokeWidth": 2, "clip": true},
               "encoding": {"x": {"field": "h", "type": "quantitative", "scale": {"domain": [0, 144], "nice": false, "zero": false}, "axis": {"labelOverlap": false, "tickCount": 200}}, "y": {"field": "v", "type": "quantitative", "scale": {"domain": [-15, 15], "nice": false}},
                 "stroke": {"datum": "Temperature",
                            "scale": {"domain": ["Temperature", "Relative humidity"], "range": ["#ff0000", "#1414b4"]},
                            "legend": {"orient": "none", "direction": "horizontal", "legendX": 12, "legendY": 206, "title": null, "symbolType": "stroke", "symbolSize": 484, "symbolStrokeWidth": 2, "labelFont": "Liberation Serif", "labelFontWeight": "bold", "labelFontSize": 13.3, "labelOffset": 5, "columnPadding": 63.5, "padding": 0, "labelLimit": 300,
                                       "encode": {"symbols": {"update": {"stroke": {"signal": "datum.value==='Temperature'?'#ff0000':'#1414b4'"}, "strokeWidth": {"value": 2}}}}}}}}
            ]},
            {"data": {"name": "jl_h"}, "mark": {"type": "line", "strokeWidth": 2, "clip": true},
             "encoding": {
               "x": {"field": "h", "type": "quantitative", "scale": {"domain": [0, 144], "nice": false, "zero": false}, "axis": {"labelOverlap": false, "tickCount": 200}},
               "y": {"field": "v", "type": "quantitative", "scale": {"domain": [60, 100], "nice": false, "zero": false},
                     "axis": {"orient": "right", "values": [60,70,80,90,100], "title": "Relative humidity", "titleFont": "Liberation Serif", "titleFontSize": 16, "titleFontWeight": "bold", "titleAngle": 270, "titleAlign": "center", "titleBaseline": "middle", "titleX": 47, "titleY": 99, "labelFont": "Liberation Serif", "labelFontSize": 14, "labelFontWeight": "bold", "labelPadding": 15, "ticks": false, "domain": false, "grid": false, "labelFlush": false}},
               "stroke": {"datum": "Relative humidity"}}}
          ],
          "resolve": {"scale": {"y": "independent"}}
        },
        {
          "width": 327, "height": 199,
          "title": {"text": "Siping City", "font": "Liberation Serif", "fontSize": 19, "fontWeight": "bold", "baseline": "alphabetic", "offset": -17, "dx": -3},
          "layer": [
            {"layer": [
              {"data": {"name": "sp_p"}, "mark": {"type": "bar", "width": 2},
               "encoding": {
                 "x": {"field": "h", "type": "quantitative", "scale": {"domain": [0, 144], "nice": false, "zero": false},
                       "axis": {"orient": "bottom", "offset": -99.5, "values": [0,8,16,24,32,40,48,56,64,72,80,88,96,104,112,120,128,136,144], "tickCount": 200, "labelExpr": "pad(((8+datum.value)%24)+'',2,'0','left')+'-'+((floor((8+datum.value)/24)+17)==23?24:(floor((8+datum.value)/24)+17))+'th'", "labelAngle": -90, "labelAlign": "right", "labelBaseline": "middle", "labelFont": "Liberation Serif", "labelFontSize": 12, "labelFontWeight": "bold", "labelPadding": 4, "ticks": false, "domain": false, "grid": false, "title": null, "labelOverlap": false, "labelFlush": false, "labelBound": false}},
                 "y": {"field": "v", "type": "quantitative", "scale": {"domain": [-15, 15], "nice": false},
                       "axis": {"values": [-15,-10,-5,0,5,10,15], "title": ["Wind speed/Temperature/", "precipitation"], "titleFont": "Liberation Serif", "titleFontSize": 15, "titleFontWeight": "bold", "titleAngle": 270, "titleAlign": "center", "titleBaseline": "top", "titleX": -72, "titleY": 104, "titleLineHeight": 18, "labelFont": "Liberation Sans", "labelFontSize": 14, "labelFontWeight": "bold", "labelPadding": 10, "ticks": false, "domain": false, "grid": true, "gridColor": "#d9d9d9", "labelFlush": false}},
                 "color": {"datum": "1-hour precipitation",
                           "scale": {"domain": ["1-hour precipitation", "Wind speed"], "range": ["#00b050", "#7a3030"]},
                           "legend": {"orient": "none", "direction": "horizontal", "legendX": 39, "legendY": 196, "title": null, "symbolType": "stroke", "symbolSize": 484, "labelFont": "Liberation Sans", "labelFontWeight": "normal", "labelFontSize": 12.5, "labelOffset": 5, "columnPadding": 32, "padding": 0, "labelLimit": 300,
                                      "encode": {"symbols": {"update": {"stroke": {"signal": "datum.value==='1-hour precipitation'?'#00b050':'#7a3030'"}, "strokeWidth": {"signal": "datum.value==='1-hour precipitation'?6:2"}}}}}}
               }},
              {"data": {"name": "zero"}, "mark": {"type": "rule", "color": "black", "strokeDash": [4, 3], "strokeWidth": 1.2},
               "encoding": {"y": {"field": "v", "type": "quantitative", "scale": {"domain": [-15, 15], "nice": false}}}},
              {"data": {"name": "sp_w"}, "mark": {"type": "line", "strokeWidth": 2},
               "encoding": {"x": {"field": "h", "type": "quantitative", "scale": {"domain": [0, 144], "nice": false, "zero": false}, "axis": {"labelOverlap": false, "tickCount": 200}}, "y": {"field": "v", "type": "quantitative", "scale": {"domain": [-15, 15], "nice": false}}, "color": {"datum": "Wind speed"}}},
              {"data": {"name": "sp_t"}, "mark": {"type": "line", "strokeWidth": 2, "clip": true},
               "encoding": {"x": {"field": "h", "type": "quantitative", "scale": {"domain": [0, 144], "nice": false, "zero": false}, "axis": {"labelOverlap": false, "tickCount": 200}}, "y": {"field": "v", "type": "quantitative", "scale": {"domain": [-15, 15], "nice": false}},
                 "stroke": {"datum": "Temperature",
                            "scale": {"domain": ["Temperature", "Relative humidity"], "range": ["#ff0000", "#1c1c8c"]},
                            "legend": {"orient": "none", "direction": "horizontal", "legendX": 30, "legendY": 206, "title": null, "symbolType": "stroke", "symbolSize": 484, "symbolStrokeWidth": 1.2, "labelFont": "Liberation Sans", "labelFontWeight": "normal", "labelFontSize": 12.5, "labelOffset": 5, "columnPadding": 64.5, "padding": 0, "labelLimit": 300,
                                       "encode": {"symbols": {"update": {"stroke": {"signal": "datum.value==='Temperature'?'#ff0000':'#1c1c8c'"}, "strokeWidth": {"value": 1.2}}}}}}}}
            ]},
            {"data": {"name": "sp_h"}, "mark": {"type": "line", "strokeWidth": 2, "clip": true},
             "encoding": {
               "x": {"field": "h", "type": "quantitative", "scale": {"domain": [0, 144], "nice": false, "zero": false}, "axis": {"labelOverlap": false, "tickCount": 200}},
               "y": {"field": "v", "type": "quantitative", "scale": {"domain": [60, 100], "nice": false, "zero": false},
                     "axis": {"orient": "right", "values": [60,70,80,90,100], "title": "Relative humidity", "titleFont": "Liberation Serif", "titleFontSize": 16, "titleFontWeight": "bold", "titleAngle": 270, "titleAlign": "center", "titleBaseline": "middle", "titleX": 52, "titleY": 99, "labelFont": "Liberation Sans", "labelFontSize": 14, "labelFontWeight": "bold", "labelPadding": 15, "ticks": false, "domain": false, "grid": false, "labelFlush": false}},
               "stroke": {"datum": "Relative humidity"}}}
          ],
          "resolve": {"scale": {"y": "independent"}}
        }
      ]
    }
  ]
}
